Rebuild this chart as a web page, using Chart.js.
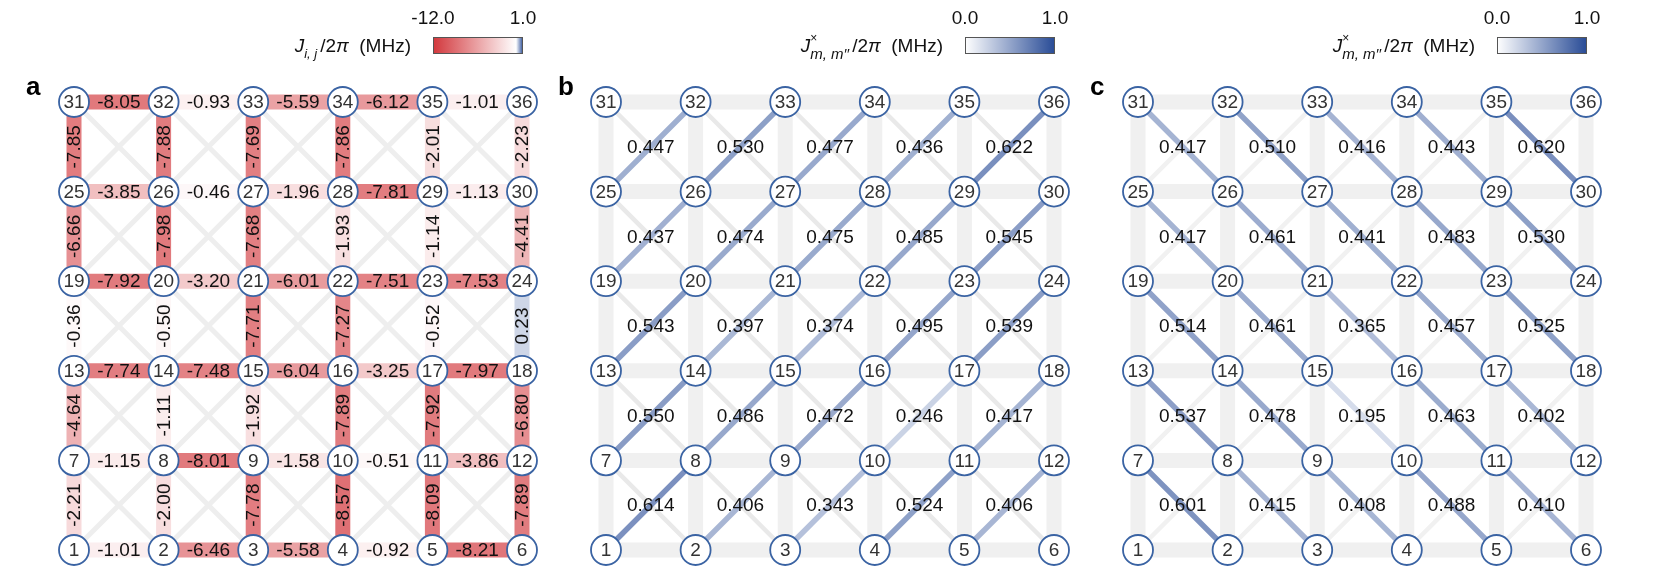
<!DOCTYPE html>
<html>
<head>
<meta charset="utf-8">
<script src="https://cdn.jsdelivr.net/npm/chart.js@4.4.1/dist/chart.umd.min.js"></script>
<style>
  body { margin: 0; background: #fff; width: 1661px; height: 583px; overflow: hidden; position: relative; }
  canvas { position: absolute; top: 0; }
</style>
</head>
<body>
<canvas id="chartA" width="560" height="583" style="left:0px"></canvas>
<canvas id="chartB" width="560" height="583" style="left:532px"></canvas>
<canvas id="chartC" width="597" height="583" style="left:1064px"></canvas>
<script>
// 6x6 grid, qubit 1 at bottom-left, numbered row by row upwards
const gridSize = 6;

// panel a: nearest neighbour couplings J/2pi (MHz), rows listed from top to bottom
const hCouplingsA = [
  [-8.05, -0.93, -5.59, -6.12, -1.01],   // 31-36
  [-3.85, -0.46, -1.96, -7.81, -1.13],   // 25-30
  [-7.92, -3.20, -6.01, -7.51, -7.53],   // 19-24
  [-7.74, -7.48, -6.04, -3.25, -7.97],   // 13-18
  [-1.15, -8.01, -1.58, -0.51, -3.86],   // 7-12
  [-1.01, -6.46, -5.58, -0.92, -8.21]    // 1-6
];
const vCouplingsA = [
  [-7.85, -7.88, -7.69, -7.86, -2.01, -2.23],  // 25-30 to 31-36
  [-6.66, -7.98, -7.68, -1.93, -1.14, -4.41],  // 19-24 to 25-30
  [-0.36, -0.50, -7.71, -7.27, -0.52, 0.23],   // 13-18 to 19-24
  [-4.64, -1.11, -1.92, -7.89, -7.92, -6.80],  // 7-12 to 13-18
  [-2.21, -2.00, -7.78, -8.57, -8.09, -7.89]   // 1-6 to 7-12
];

// panel b: cross couplings along "/" diagonals, cells from top row to bottom row
const crossB = [
  [0.447, 0.530, 0.477, 0.436, 0.622],
  [0.437, 0.474, 0.475, 0.485, 0.545],
  [0.543, 0.397, 0.374, 0.495, 0.539],
  [0.550, 0.486, 0.472, 0.246, 0.417],
  [0.614, 0.406, 0.343, 0.524, 0.406]
];

// panel c: cross couplings along "\" diagonals
const crossC = [
  [0.417, 0.510, 0.416, 0.443, 0.620],
  [0.417, 0.461, 0.441, 0.483, 0.530],
  [0.514, 0.461, 0.365, 0.457, 0.525],
  [0.537, 0.478, 0.195, 0.463, 0.402],
  [0.601, 0.415, 0.408, 0.488, 0.410]
];

// colorbar tick labels
const ticksA = ['-12.0', '1.0'];
const ticksBC = ['0.0', '1.0'];

const FONT = '"Liberation Sans", Arial, Helvetica, sans-serif';
const RED = [210, 55, 60];
const BLUE = [40, 75, 150];
const NODE_BORDER = '#3a63a3';

function mix(c, t) {
  t = Math.max(0, Math.min(1, t));
  return 'rgb(' + Math.round(255 + (c[0] - 255) * t) + ',' +
    Math.round(255 + (c[1] - 255) * t) + ',' + Math.round(255 + (c[2] - 255) * t) + ')';
}
function colorA(v) { return v < 0 ? mix(RED, -v / 12) : mix(BLUE, v); }
function colorB(v) { return mix(BLUE, v); }

function seg(x1, y1, x2, y2, color, width, order) {
  return {
    data: [{x: x1, y: y1}, {x: x2, y: y2}],
    showLine: true, borderColor: color, borderWidth: width,
    borderCapStyle: 'butt', pointRadius: 0, order: order, clip: false
  };
}

function nodeDataset() {
  const pts = [];
  for (let r = 0; r < gridSize; r++)
    for (let c = 0; c < gridSize; c++) pts.push({x: c, y: r});
  return {
    data: pts, showLine: false, pointRadius: 15,
    pointBackgroundColor: '#fff', pointBorderColor: NODE_BORDER,
    pointBorderWidth: 1.8, order: 0, clip: false
  };
}

// grey X in every cell (panel a), or just one diagonal direction
function greyDiagonals(dir, color, width) {
  const out = [];
  for (let r = 0; r < gridSize - 1; r++)
    for (let c = 0; c < gridSize - 1; c++) {
      if (dir !== '\\') out.push(seg(c, r, c + 1, r + 1, color, width, 3));
      if (dir !== '/') out.push(seg(c, r + 1, c + 1, r, color, width, 3));
    }
  return out;
}
function greyGrid() {
  const out = [];
  for (let r = 0; r < gridSize; r++)
    for (let c = 0; c < gridSize - 1; c++) {
      out.push(seg(c, r, c + 1, r, '#f0f0f0', 15, 4));
      out.push(seg(r, c, r, c + 1, '#f0f0f0', 15, 4));
    }
  return out;
}

// ---- labels / header plugin ----
const gridText = {
  id: 'gridText',
  afterDatasetsDraw(chart, args, opts) {
    const ctx = chart.ctx, xs = chart.scales.x, ys = chart.scales.y;
    ctx.save();
    ctx.fillStyle = '#111';
    ctx.font = '19px ' + FONT;
    ctx.textAlign = 'center';
    ctx.textBaseline = 'middle';
    opts.labels.forEach(l => {
      const px = xs.getPixelForValue(l.x), py = ys.getPixelForValue(l.y);
      ctx.save();
      ctx.translate(px, py);
      if (l.rot) ctx.rotate(-Math.PI / 2);
      ctx.fillText(l.text, 0, 1);
      ctx.restore();
    });
    // node numbers
    ctx.fillStyle = '#333';
    ctx.font = '19px ' + FONT;
    for (let r = 0; r < gridSize; r++)
      for (let c = 0; c < gridSize; c++)
        ctx.fillText(String(r * gridSize + c + 1), xs.getPixelForValue(c), ys.getPixelForValue(r) + 1);
    ctx.restore();
  },
  afterDraw(chart, args, opts) {
    const ctx = chart.ctx;
    ctx.save();
    // panel letter
    ctx.fillStyle = '#000';
    ctx.font = 'bold 26px ' + FONT;
    ctx.textAlign = 'left';
    ctx.textBaseline = 'alphabetic';
    ctx.fillText(opts.letter, 26, 95);
    // colorbar
    const bx = 433, by = 37, bw = 90, bh = 17;
    const g = ctx.createLinearGradient(bx, 0, bx + bw, 0);
    opts.stops.forEach(s => g.addColorStop(s[0], s[1]));
    ctx.fillStyle = g;
    ctx.fillRect(bx, by, bw, bh);
    ctx.strokeStyle = '#555';
    ctx.lineWidth = 1;
    ctx.strokeRect(bx + 0.5, by + 0.5, bw - 1, bh - 1);
    ctx.fillStyle = '#111';
    ctx.font = '19px ' + FONT;
    ctx.textAlign = 'center';
    ctx.textBaseline = 'middle';
    ctx.fillText(opts.ticks[0], bx, 19);
    ctx.fillText(opts.ticks[1], bx + bw, 19);
    // title, right aligned next to the colorbar
    const base = by + bh / 2 + 6;
    const parts = opts.title;
    let total = 0;
    parts.forEach(p => { ctx.font = p.f + FONT; p.w = ctx.measureText(p.t).width; if (!p.stack) total += p.adv != null ? p.adv : p.w; });
    let x = 411 - total;
    ctx.textAlign = 'left';
    ctx.textBaseline = 'alphabetic';
    parts.forEach(p => {
      ctx.font = p.f + FONT;
      ctx.fillText(p.t, x, base + (p.dy || 0));
      if (!p.stack) x += p.adv != null ? p.adv : p.w;
    });
    ctx.restore();
  }
};

function baseOptions(padRight, textOpts) {
  return {
    responsive: false, animation: false, events: [],
    layout: {padding: {left: 74, right: padRight, top: 102, bottom: 33}},
    scales: {
      x: {type: 'linear', min: 0, max: 5, display: false},
      y: {type: 'linear', min: 0, max: 5, display: false}
    },
    plugins: {legend: {display: false}, tooltip: {enabled: false}, gridText: textOpts}
  };
}

// ---- panel a ----
const dsA = greyDiagonals('x', '#eeeeee', 5);
const labelsA = [];
hCouplingsA.forEach((row, i) => row.forEach((v, c) => {
  const y = gridSize - 1 - i;
  dsA.push(seg(c, y, c + 1, y, colorA(v), 15, 2));
  labelsA.push({x: c + 0.5, y: y, text: v.toFixed(2)});
}));
vCouplingsA.forEach((row, i) => row.forEach((v, c) => {
  const y = gridSize - 1 - i;
  dsA.push(seg(c, y, c, y - 1, colorA(v), 15, 2));
  labelsA.push({x: c, y: y - 0.5, text: v.toFixed(2), rot: true});
}));
dsA.push(nodeDataset());

new Chart(document.getElementById('chartA'), {
  type: 'scatter',
  data: {datasets: dsA},
  options: baseOptions(38, {
    letter: 'a', labels: labelsA, ticks: ticksA,
    stops: [[0, mix(RED, 1)], [12 / 13, '#fff'], [1, mix(BLUE, 1)]],
    title: [
      {t: 'J', f: 'italic 19px '},
      {t: 'i, j', f: 'italic 13px ', dy: 6, adv: 16},
      {t: '/2', f: '19px '},
      {t: 'π', f: 'italic 19px '},
      {t: '  (MHz)', f: '19px '}
    ]
  }),
  plugins: [gridText]
});

// ---- panels b and c ----
function crossPanel(id, values, dir, letter, padRight) {
  const ds = greyGrid().concat(greyDiagonals(dir === '/' ? '\\' : '/', dir === '/' ? '#e9e9e9' : '#f1f1f1', 4.5));
  const labels = [];
  values.forEach((row, i) => row.forEach((v, c) => {
    const top = gridSize - 1 - i;
    if (dir === '/') ds.push(seg(c, top - 1, c + 1, top, colorB(v), 5.5, 2));
    else ds.push(seg(c, top, c + 1, top - 1, colorB(v), 5.5, 2));
    labels.push({x: c + 0.5, y: top - 0.5, text: v.toFixed(3)});
  }));
  ds.push(nodeDataset());
  new Chart(document.getElementById(id), {
    type: 'scatter',
    data: {datasets: ds},
    options: baseOptions(padRight, {
      letter: letter, labels: labels, ticks: ticksBC,
      stops: [[0, '#fff'], [1, mix(BLUE, 1)]],
      title: [
        {t: 'J', f: 'italic 19px '},
        {t: '×', f: '12px ', dy: -10, stack: true},
        {t: 'm, m′′', f: 'italic 15px ', dy: 7, adv: 42},
        {t: '/2', f: '19px '},
        {t: 'π', f: 'italic 19px '},
        {t: '  (MHz)', f: '19px '}
      ]
    }),
    plugins: [gridText]
  });
}
crossPanel('chartB', crossB, '/', 'b', 38);
crossPanel('chartC', crossC, '\\', 'c', 75);
</script>
</body>
</html>
